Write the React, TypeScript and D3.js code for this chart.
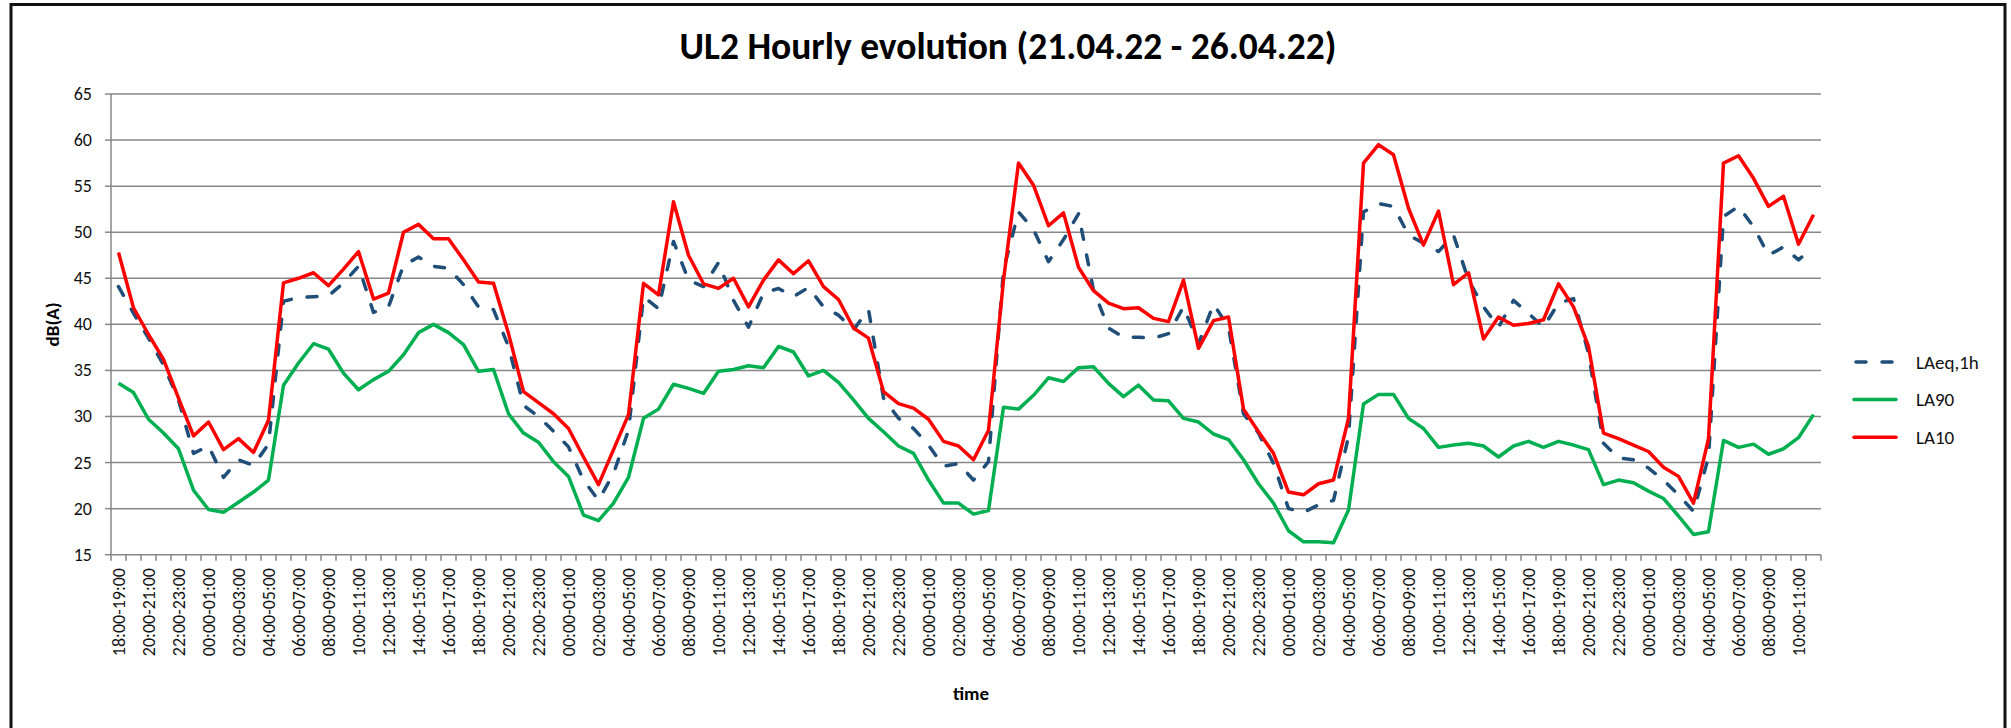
import React from "react";
import * as d3 from "d3";

// hourly bins, 21.04.22 18:00 -> 26.04.22 12:00
const startHour = 18;
const hourCount = 114;
const hh = (h: number) => String(h % 24).padStart(2, "0");
const categories = d3.range(hourCount).map((i) => `${hh(startHour + i)}:00-${hh(startHour + i + 1)}:00`);

const laeq = [
  44.1, 41.2, 38.5, 35.6, 31.8, 26.0, 26.8, 23.4, 25.3, 24.7, 27.0, 42.5, 42.9, 43.0, 43.1, 44.5, 46.3,
  41.3, 41.9, 46.4, 47.3, 46.3, 46.1, 44.3, 41.9, 41.6, 37.6, 31.2, 30.0, 28.4, 26.7, 23.1, 20.9,
  23.8, 28.5, 43.0, 41.7, 49.0, 44.8, 44.1, 46.7, 42.6, 39.7, 43.4, 43.9, 43.0, 44.0, 41.9, 41.0,
  39.4, 41.6, 32.0, 29.8, 28.7, 26.9, 24.6, 24.9, 23.1, 25.1, 45.9, 52.2, 50.3, 46.8, 49.2, 52.0,
  43.7, 39.6, 38.6, 38.6, 38.5, 39.0, 41.9, 37.9, 42.2, 39.7, 30.3, 28.2, 24.9, 20.0, 19.6, 20.4,
  20.9, 27.8, 52.2, 53.1, 52.8, 49.7, 48.8, 47.9, 49.7, 44.8, 41.9, 39.7, 42.6, 41.2, 39.7, 42.3,
  42.8, 36.85, 27.1, 25.5, 25.3, 24.4, 23.1, 21.5, 19.7, 25.6, 51.7, 52.8, 50.6, 47.5, 48.4, 47.0, 48.4,
];

const la90 = [
  33.6, 32.6, 29.7, 28.2, 26.5, 22.0, 19.9, 19.6, 20.7, 21.8, 23.1, 33.4, 35.8, 37.9, 37.3, 34.7, 32.9,
  34.0, 34.9, 36.7, 39.1, 40.0, 39.1, 37.8, 34.9, 35.1, 30.3, 28.2, 27.2, 25.1, 23.5, 19.3, 18.7,
  20.6, 23.4, 29.8, 30.8, 33.5, 33.05, 32.5, 34.9, 35.1, 35.5, 35.3, 37.6, 37.0, 34.4, 35.0, 33.7,
  31.8, 29.8, 28.35, 26.8, 26.0, 23.1, 20.6, 20.6, 19.4, 19.8, 31.0, 30.8, 32.3, 34.2, 33.8, 35.3,
  35.4, 33.6, 32.15, 33.4, 31.8, 31.7, 29.8, 29.4, 28.1, 27.5, 25.3, 22.7, 20.6, 17.6, 16.4, 16.4,
  16.3, 19.85, 31.35, 32.4, 32.4, 29.8, 28.7, 26.65, 26.9, 27.1, 26.8, 25.6, 26.8, 27.3, 26.65, 27.3,
  26.9, 26.4, 22.6, 23.1, 22.8, 21.9, 21.1, 19.2, 17.2, 17.5, 27.4, 26.65, 27.0, 25.9, 26.5, 27.7, 30.2,
];

const la10 = [
  47.8, 41.8, 38.9, 36.2, 32.0, 27.9, 29.4, 26.4, 27.6, 26.1, 29.6, 44.5, 45.0, 45.6, 44.2, 46.0, 47.9,
  42.75, 43.4, 50.0, 50.85, 49.3, 49.3, 47.0, 44.6, 44.45, 39.0, 32.7, 31.5, 30.3, 28.7, 25.6, 22.6,
  26.4, 30.2, 44.45, 43.2, 53.3, 47.5, 44.4, 43.9, 45.0, 41.9, 44.8, 47.0, 45.5, 46.9, 44.1, 42.7,
  39.6, 38.5, 32.7, 31.4, 30.9, 29.7, 27.3, 26.8, 25.3, 28.5, 44.8, 57.5, 55.1, 50.7, 52.1, 46.2,
  43.65, 42.3, 41.7, 41.8, 40.65, 40.3, 44.8, 37.4, 40.4, 40.8, 30.8, 28.35, 26.0, 21.8, 21.5, 22.7,
  23.1, 29.8, 57.5, 59.5, 58.4, 52.6, 48.6, 52.3, 44.3, 45.6, 38.4, 40.8, 39.9, 40.1, 40.5, 44.4,
  41.9, 37.6, 28.2, 27.6, 26.9, 26.2, 24.5, 23.5, 20.6, 27.6, 57.5, 58.3, 55.85, 52.8, 53.9, 48.7, 51.9,
];

const series = [
  { name: "LAeq,1h", values: laeq, color: "#1f4e79", dash: "10 16" },
  { name: "LA90", values: la90, color: "#00b050", dash: null },
  { name: "LA10", values: la10, color: "#ff0000", dash: null },
];

const W = 2011;
const H = 728;
const font = "Calibri, Carlito, Lato, sans-serif";
const gridColor = "#878787";
const m = { left: 111, right: 1821, top: 94, bottom: 554.7 };

export default function App() {
  const x = d3
    .scaleBand<number>()
    .domain(d3.range(hourCount))
    .range([m.left, m.right])
    .padding(0);
  const bw = x.bandwidth();
  const cx = (i: number) => (x(i) ?? 0) + bw / 2;

  const y = d3.scaleLinear().domain([15, 65]).range([m.bottom, m.top]);
  const yTicks = y.ticks(10);

  const line = d3
    .line<number>()
    .x((_d, i) => cx(i))
    .y((d) => y(d));

  const boundaries = d3.range(hourCount + 1).map((i) => m.left + i * bw);

  return (
    <div style={{ position: "absolute", left: 0, top: 0 }}>
      <svg width={W} height={H} style={{ display: "block", background: "#fff" }} fontFamily={font}>
        <rect x={11} y={4.5} width={1994} height={740} fill="#fff" stroke="#111" strokeWidth={3} />

        <text x={1008} y={59} textAnchor="middle" fontSize={37.5} fontWeight="bold" fill="#000">
          UL2 Hourly evolution (21.04.22 - 26.04.22)
        </text>

        {/* gridlines + y ticks */}
        {yTicks.map((t) => (
          <g key={t}>
            {t > 15 && (
              <line x1={m.left} x2={m.right} y1={y(t)} y2={y(t)} stroke={gridColor} strokeWidth={1.5} />
            )}
            <line x1={m.left - 6} x2={m.left} y1={y(t)} y2={y(t)} stroke={gridColor} strokeWidth={1.5} />
            <text x={92} y={y(t)} textAnchor="end" dominantBaseline="central" fontSize={18} fill="#111">
              {t}
            </text>
          </g>
        ))}

        {/* axes */}
        <line x1={m.left} x2={m.left} y1={m.top} y2={m.bottom} stroke={gridColor} strokeWidth={1.5} />
        <line x1={m.left} x2={m.right} y1={m.bottom} y2={m.bottom} stroke={gridColor} strokeWidth={1.5} />
        {boundaries.map((bx, i) => (
          <line key={i} x1={bx} x2={bx} y1={m.bottom} y2={m.bottom + 6} stroke={gridColor} strokeWidth={1.5} />
        ))}

        {/* x labels, every second hour */}
        {categories.map((c, i) =>
          i % 2 === 0 ? (
            <text
              key={c + i}
              transform={`translate(${cx(i)},${568}) rotate(-90)`}
              textAnchor="end"
              dominantBaseline="central"
              fontSize={18}
              fill="#111"
            >
              {c}
            </text>
          ) : null
        )}

        <text
          transform={`translate(52,${(m.top + m.bottom) / 2}) rotate(-90)`}
          textAnchor="middle"
          dominantBaseline="central"
          fontSize={19}
          fontWeight="bold"
          fill="#000"
        >
          dB(A)
        </text>
        <text x={(m.left + m.right) / 2 + 5} y={693} textAnchor="middle" dominantBaseline="central" fontSize={19} fontWeight="bold" fill="#000">
          time
        </text>

        {/* series */}
        {series.map((s) => (
          <path
            key={s.name}
            d={line(s.values) ?? ""}
            fill="none"
            stroke={s.color}
            strokeWidth={3.5}
            strokeLinejoin="round"
            strokeLinecap={s.dash ? "round" : "butt"}
            strokeDasharray={s.dash ?? undefined}
          />
        ))}

        {/* legend */}
        {series.map((s, k) => {
          const ly = 362 + k * 37.6;
          return (
            <g key={s.name}>
              <line
                x1={s.dash ? 1856 : 1854}
                x2={1896}
                y1={ly}
                y2={ly}
                stroke={s.color}
                strokeWidth={3.5}
                strokeLinecap="round"
                strokeDasharray={s.dash ?? undefined}
              />
              <text x={1916} y={ly} dominantBaseline="central" fontSize={19} fill="#111">
                {s.name}
              </text>
            </g>
          );
        })}
      </svg>
    </div>
  );
}
